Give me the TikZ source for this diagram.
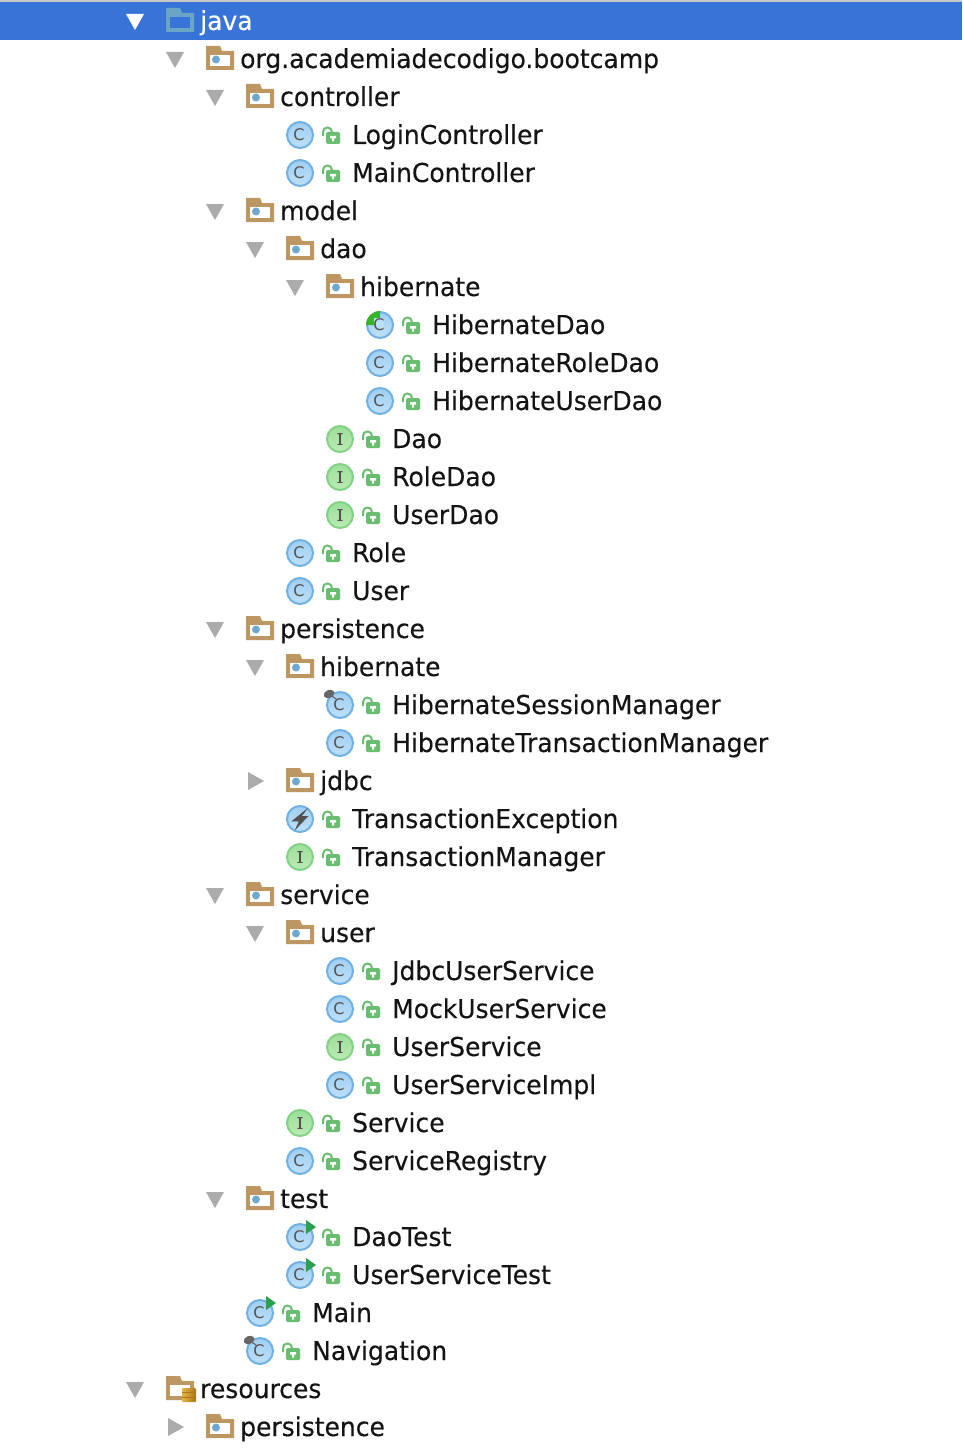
\documentclass[tikz,border=0pt]{standalone}
\usepackage{fontspec}
\setmainfont[FakeStretch=0.962,FakeBold=0.25]{DejaVu Sans}
\newfontfamily\iconserif[FakeBold=1]{DejaVu Serif}
\newfontfamily\iconsans{DejaVu Sans}
\definecolor{selbar}{HTML}{3873D8}
\definecolor{selfold}{HTML}{6BA5C5}
\definecolor{topline}{HTML}{C8C8C8}
\definecolor{treearrow}{HTML}{ABABAB}
\definecolor{foldbrown}{HTML}{BD9662}
\definecolor{folddot}{HTML}{6FA8CF}
\definecolor{clsline}{HTML}{6FB1E5}
\definecolor{clstop}{HTML}{A0CFF2}
\definecolor{clsbot}{HTML}{BDE0F9}
\definecolor{ifcline}{HTML}{82D385}
\definecolor{ifctop}{HTML}{9CDF9A}
\definecolor{ifcbot}{HTML}{BCEBB4}
\definecolor{lockgreen}{HTML}{68BE6E}
\definecolor{glyphgray}{HTML}{555050}
\definecolor{covgreen}{HTML}{37B52A}
\definecolor{rungreen}{HTML}{2CA04A}
\definecolor{pingray}{HTML}{666666}
\definecolor{dbgold}{HTML}{E8B440}
\definecolor{dbdark}{HTML}{A8761C}
\tikzset{
  lbl/.style={anchor=base west,yshift=-9pt,inner sep=0pt,text=black!92,font=\fontsize{26}{30}\selectfont},
  cglyph/.style={inner sep=0pt,text=glyphgray,font=\iconsans\fontsize{16}{16}\selectfont},
  iglyph/.style={inner sep=0pt,text=glyphgray,font=\iconserif\fontsize{16}{16}\selectfont},
  tridown/.pic={\fill[treearrow] (-9,-7) -- (9,-7) -- (0,9) -- cycle;},
  triright/.pic={\fill[treearrow] (-7,-9) -- (9,0) -- (-7,9) -- cycle;},
  foldshape/.pic={\fill[foldbrown] (0,11) -- (0,-13) -- (14,-13) -- (16,-8) -- (28,-8) -- (28,11) -- cycle;},
  pkg/.pic={\pic {foldshape};
    \fill[white] (4,-4) rectangle (24,7);
    \fill[folddot] (10,0.5) circle (4);},
  dbgroup/.pic={\pic {foldshape};
    \fill[white] (4,-4) rectangle (24,7);
    \shade[left color=dbgold,right color=dbdark,rounded corners=1pt] (16,-1) rectangle (30,13);
    \draw[dbdark,line width=1.2pt] (16,3.5) -- (30,3.5) (16,8.5) -- (30,8.5);},
  lck/.pic={\draw[lockgreen,line width=2pt] (23,1) -- (23,-3) .. controls (23,-9) and (32,-9) .. (32,-3);
    \fill[lockgreen,rounded corners=1.5pt] (26,-3) rectangle (40,9);
    \fill[white] (30,1) rectangle (36,3.5) (32,3) rectangle (34,6.5);},
  clsdisc/.pic={\shade[top color=clstop,bottom color=clsbot,draw=clsline,line width=2pt] (0,0) circle (13);},
  cls/.pic={\pic {clsdisc}; \node[cglyph] (-g) at (-1,0) {C};},
  ifc/.pic={\shade[top color=ifctop,bottom color=ifcbot,draw=ifcline,line width=2pt] (0,0) circle (13);
    \node[iglyph] (-g) at (0,0) {I};},
  exc/.pic={\pic {clsdisc};
    \filldraw[glyphgray,line width=0.8pt,line join=miter] (6,-9) -- (-7.5,2) -- (-0.5,2) -- (-4,9.5) -- (7.5,-2.5) -- (1,-2.5) -- cycle;},
  cov/.pic={\pic {clsdisc};
    \fill[covgreen] (0,0) -- (-14,0) arc (180:270:14) -- cycle;
    \fill[clsbot] (-6,-7) rectangle (4,4);
    \node[cglyph] (-g) at (-1,0) {C};},
  runmark/.pic={\fill[rungreen] (6,-17) -- (16,-10) -- (6,-3) -- cycle;},
  pinmark/.pic={\draw[pingray,line width=1.2pt] (-11,-11) -- (-4,-6);
    \fill[pingray,rotate around={25:(-11,-11)}] (-11,-11) ellipse (5.5 and 4);},
}
\begin{document}
\begin{tikzpicture}[x=1pt,y=-1pt]
  \useasboundingbox (0,0) rectangle (962,1450);
  \fill[white] (0,0) rectangle (962,1450);
  \fill[topline] (0,0) rectangle (962,2);
  \fill[selbar] (0,2) rectangle (962,40);

  % selected row
  \fill[white] (126,14) -- (144,14) -- (135,30) -- cycle;
  \fill[selfold] (166,32) -- (166,8) -- (180,8) -- (182,13) -- (194,13) -- (194,32) -- cycle;
  \fill[selbar] (170,17) rectangle (190,28);
  \node[lbl,text=white] (java) at (200,21) {java};

  % packages
  \pic at (175,59) {tridown}; \pic at (206,59) {pkg};
  \node[lbl] (org) at (240,59) {org.academiadecodigo.bootcamp};
  \pic at (215,97) {tridown}; \pic at (246,97) {pkg};
  \node[lbl] (controller) at (280,97) {controller};
  \pic (loginic) at (300,135) {cls}; \pic at (300,135) {lck};
  \node[lbl] (login) at (352,135) {LoginController};
  \pic (mainctlic) at (300,173) {cls}; \pic at (300,173) {lck};
  \node[lbl] (mainctl) at (352,173) {MainController};

  \pic at (215,211) {tridown}; \pic at (246,211) {pkg};
  \node[lbl] (model) at (280,211) {model};
  \pic at (255,249) {tridown}; \pic at (286,249) {pkg};
  \node[lbl] (dao) at (320,249) {dao};
  \pic at (295,287) {tridown}; \pic at (326,287) {pkg};
  \node[lbl] (hib) at (360,287) {hibernate};
  \pic (hibdaoic) at (380,325) {cov}; \pic at (380,325) {lck};
  \node[lbl] (hibdao) at (432,325) {HibernateDao};
  \pic (hibroleic) at (380,363) {cls}; \pic at (380,363) {lck};
  \node[lbl] (hibrole) at (432,363) {HibernateRoleDao};
  \pic (hibuseric) at (380,401) {cls}; \pic at (380,401) {lck};
  \node[lbl] (hibuser) at (432,401) {HibernateUserDao};
  \pic (daoiic) at (340,439) {ifc}; \pic at (340,439) {lck};
  \node[lbl] (daoi) at (392,439) {Dao};
  \pic (roledaoic) at (340,477) {ifc}; \pic at (340,477) {lck};
  \node[lbl] (roledao) at (392,477) {RoleDao};
  \pic (userdaoic) at (340,515) {ifc}; \pic at (340,515) {lck};
  \node[lbl] (userdao) at (392,515) {UserDao};
  \pic (roleic) at (300,553) {cls}; \pic at (300,553) {lck};
  \node[lbl] (role) at (352,553) {Role};
  \pic (useric) at (300,591) {cls}; \pic at (300,591) {lck};
  \node[lbl] (user) at (352,591) {User};

  \pic at (215,629) {tridown}; \pic at (246,629) {pkg};
  \node[lbl] (persist) at (280,629) {persistence};
  \pic at (255,667) {tridown}; \pic at (286,667) {pkg};
  \node[lbl] (phib) at (320,667) {hibernate};
  \pic (sessionic) at (340,705) {cls}; \pic at (340,705) {pinmark}; \pic at (340,705) {lck};
  \node[lbl] (session) at (392,705) {HibernateSessionManager};
  \pic (txmgric) at (340,743) {cls}; \pic at (340,743) {lck};
  \node[lbl] (txmgr) at (392,743) {HibernateTransactionManager};
  \pic at (255,781) {triright}; \pic at (286,781) {pkg};
  \node[lbl] (jdbc) at (320,781) {jdbc};
  \pic at (300,819) {exc}; \pic at (300,819) {lck};
  \node[lbl] (txexc) at (352,819) {TransactionException};
  \pic (txiic) at (300,857) {ifc}; \pic at (300,857) {lck};
  \node[lbl] (txi) at (352,857) {TransactionManager};

  \pic at (215,895) {tridown}; \pic at (246,895) {pkg};
  \node[lbl] (service) at (280,895) {service};
  \pic at (255,933) {tridown}; \pic at (286,933) {pkg};
  \node[lbl] (suser) at (320,933) {user};
  \pic (jdbcsvic) at (340,971) {cls}; \pic at (340,971) {lck};
  \node[lbl] (jdbcsv) at (392,971) {JdbcUserService};
  \pic (mocksvic) at (340,1009) {cls}; \pic at (340,1009) {lck};
  \node[lbl] (mocksv) at (392,1009) {MockUserService};
  \pic (usersvic) at (340,1047) {ifc}; \pic at (340,1047) {lck};
  \node[lbl] (usersv) at (392,1047) {UserService};
  \pic (implic) at (340,1085) {cls}; \pic at (340,1085) {lck};
  \node[lbl] (impl) at (392,1085) {UserServiceImpl};
  \pic (svcic) at (300,1123) {ifc}; \pic at (300,1123) {lck};
  \node[lbl] (svc) at (352,1123) {Service};
  \pic (regic) at (300,1161) {cls}; \pic at (300,1161) {lck};
  \node[lbl] (reg) at (352,1161) {ServiceRegistry};

  \pic at (215,1199) {tridown}; \pic at (246,1199) {pkg};
  \node[lbl] (test) at (280,1199) {test};
  \pic (daotic) at (300,1237) {cls}; \pic at (300,1237) {runmark}; \pic at (300,1237) {lck};
  \node[lbl] (daot) at (352,1237) {DaoTest};
  \pic (usertic) at (300,1275) {cls}; \pic at (300,1275) {runmark}; \pic at (300,1275) {lck};
  \node[lbl] (usert) at (352,1275) {UserServiceTest};
  \pic (mainic) at (260,1313) {cls}; \pic at (260,1313) {runmark}; \pic at (260,1313) {lck};
  \node[lbl] (main) at (312,1313) {Main};
  \pic (navic) at (260,1351) {cls}; \pic at (260,1351) {pinmark}; \pic at (260,1351) {lck};
  \node[lbl] (nav) at (312,1351) {Navigation};

  % resources
  \pic at (135,1389) {tridown}; \pic at (166,1389) {dbgroup};
  \node[lbl] (res) at (200,1389) {resources};
  \pic at (175,1427) {triright}; \pic at (206,1427) {pkg};
  \node[lbl] (rpersist) at (240,1427) {persistence};
\end{tikzpicture}
\end{document}
